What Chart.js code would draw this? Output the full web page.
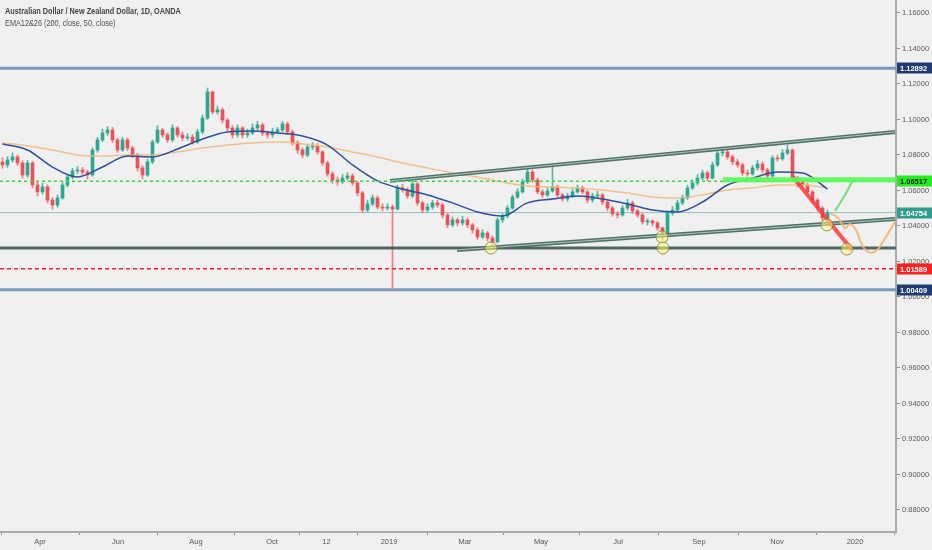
<!DOCTYPE html>
<html>
<head>
<meta charset="utf-8">
<script src="https://cdn.jsdelivr.net/npm/chart.js@4.4.1/dist/chart.umd.min.js"></script>
<style>
  html, body { margin:0; padding:0; background:#f0f0f0; width:932px; height:550px; overflow:hidden; }
  #wrap { position:relative; width:932px; height:550px; }
  canvas { position:absolute; left:0; top:0; }
  #legend { position:absolute; left:5px; top:5px; font-family:"Liberation Sans",Arial,sans-serif; font-size:8.5px; line-height:12px; color:#505050; pointer-events:none; transform:scaleX(0.86); transform-origin:0 0; white-space:nowrap; }
  #legend .t1 { font-weight:bold; color:#454545; }
</style>
</head>
<body>
<div id="wrap">
  <canvas id="c" width="932" height="550"></canvas>
  <div id="legend">
    <div class="t1">Australian Dollar / New Zealand Dollar, 1D, OANDA</div>
    <div>EMA12&amp;26 (200, close, 50, close)</div>
  </div>
</div>
<script>
// ---------- DATA (price values; one candle ~ 3 trading days) ----------
const firstOpen = 1.0760;
const closes = [
 1.0744,1.0772,1.0789,1.0755,1.0687,1.0755,1.0631,1.0592,1.0620,1.0546,
 1.0518,1.0558,1.0631,1.0676,1.0710,1.0715,1.0704,1.0687,1.0828,1.0885,
 1.0924,1.0941,1.0885,1.0828,1.0885,1.0839,1.0800,1.0727,1.0687,1.0761,
 1.0873,1.0941,1.0913,1.0885,1.0952,1.0913,1.0896,1.0901,1.0873,1.0930,
 1.1008,1.1155,1.1042,1.1054,1.0997,1.0952,
 1.0913,1.0952,1.0913,1.0924,1.0952,1.0969,1.0924,1.0913,1.0930,1.0941,
 1.0975,1.0930,1.0868,1.0828,1.0800,1.0845,1.0851,1.0817,1.0755,1.0693,
 1.0659,1.0648,1.0670,1.0682,1.0642,1.0586,1.0490,1.0524,1.0558,1.0507,
 1.0501,1.0507,1.0495,1.0614,1.0603,1.0569,1.0637,1.0530,1.0490,1.0507,
 1.0530,1.0518,1.0462,1.0406,1.0434,
 1.0417,1.0434,1.0406,1.0377,1.0338,1.0361,1.0332,1.0310,1.0434,1.0456,
 1.0501,1.0563,1.0592,1.0648,1.0704,1.0659,1.0592,1.0575,1.0597,1.0620,
 1.0575,1.0552,1.0569,1.0592,1.0614,1.0592,1.0546,1.0569,1.0575,1.0535,
 1.0501,1.0468,1.0462,1.0501,1.0530,1.0485,1.0462,1.0423,1.0428,1.0417,
 1.0389,1.0349,1.0473,1.0490,1.0530,
 1.0558,1.0614,1.0642,1.0670,1.0699,1.0670,1.0744,1.0811,1.0817,1.0789,
 1.0761,1.0744,1.0699,1.0693,1.0727,1.0749,1.0715,1.0682,1.0783,1.0778,
 1.0811,1.0828,1.0670,1.0648,1.0631,1.0592,1.0546,1.0501,1.0445,1.0475
];
const highs = [
 1.0785,1.0790,1.0812,1.0800,1.0768,1.0770,1.0765,1.0650,1.0640,1.0632,
 1.0560,1.0575,1.0645,1.0690,1.0725,1.0735,1.0730,1.0715,1.0840,1.0900,
 1.0945,1.0960,1.0955,1.0895,1.0900,1.0895,1.0850,1.0810,1.0740,1.0775,
 1.0885,1.0965,1.0950,1.0925,1.0970,1.0960,1.0930,1.0920,1.0915,1.0945,
 1.1025,1.1177,1.1160,1.1075,1.1065,1.1005,
 1.0965,1.0970,1.0960,1.0945,1.0975,1.0990,1.0980,1.0935,1.0950,1.0955,
 1.0990,1.0985,1.0940,1.0880,1.0840,1.0860,1.0870,1.0865,1.0825,1.0765,
 1.0705,1.0675,1.0690,1.0700,1.0695,1.0650,1.0595,1.0545,1.0575,1.0570,
 1.0525,1.0525,1.0520,1.0630,1.0635,1.0615,1.0655,1.0645,1.0540,1.0525,
 1.0545,1.0545,1.0530,1.0470,1.0450,
 1.0445,1.0455,1.0445,1.0415,1.0390,1.0380,1.0370,1.0345,1.0445,1.0470,
 1.0515,1.0575,1.0610,1.0665,1.0727,1.0715,1.0670,1.0605,1.0615,1.0732,
 1.0630,1.0585,1.0585,1.0605,1.0630,1.0625,1.0600,1.0585,1.0595,1.0585,
 1.0545,1.0510,1.0480,1.0515,1.0550,1.0540,1.0495,1.0470,1.0440,1.0435,
 1.0425,1.0395,1.0485,1.0510,1.0545,
 1.0575,1.0630,1.0660,1.0690,1.0715,1.0710,1.0760,1.0830,1.0835,1.0830,
 1.0800,1.0775,1.0755,1.0715,1.0740,1.0770,1.0760,1.0725,1.0795,1.0800,
 1.0830,1.0856,1.0835,1.0680,1.0665,1.0640,1.0600,1.0555,1.0510,1.0490
];
const lows = [
 1.0725,1.0730,1.0760,1.0740,1.0670,1.0675,1.0615,1.0570,1.0580,1.0530,
 1.0495,1.0505,1.0550,1.0620,1.0665,1.0695,1.0690,1.0665,1.0680,1.0815,
 1.0875,1.0910,1.0870,1.0815,1.0820,1.0825,1.0785,1.0710,1.0665,1.0680,
 1.0750,1.0865,1.0900,1.0870,1.0875,1.0900,1.0880,1.0885,1.0860,1.0865,
 1.0920,1.1000,1.1030,1.1030,1.0980,1.0935,
 1.0895,1.0900,1.0895,1.0900,1.0915,1.0940,1.0910,1.0895,1.0900,1.0920,
 1.0930,1.0915,1.0855,1.0810,1.0785,1.0790,1.0830,1.0805,1.0740,1.0680,
 1.0640,1.0630,1.0640,1.0660,1.0630,1.0570,1.0475,1.0480,1.0515,1.0495,
 1.0485,1.0490,1.0051,1.0490,1.0590,1.0555,1.0560,1.0515,1.0475,1.0480,
 1.0495,1.0505,1.0445,1.0390,1.0395,
 1.0400,1.0405,1.0390,1.0360,1.0325,1.0330,1.0315,1.0287,1.0305,1.0420,
 1.0445,1.0495,1.0555,1.0585,1.0640,1.0645,1.0580,1.0560,1.0565,1.0590,
 1.0560,1.0540,1.0540,1.0560,1.0585,1.0580,1.0530,1.0535,1.0555,1.0520,
 1.0485,1.0455,1.0445,1.0455,1.0490,1.0470,1.0450,1.0410,1.0405,1.0400,
 1.0375,1.0321,1.0345,1.0460,1.0480,
 1.0520,1.0550,1.0605,1.0630,1.0660,1.0655,1.0665,1.0735,1.0795,1.0775,
 1.0745,1.0730,1.0685,1.0680,1.0685,1.0715,1.0700,1.0665,1.0675,1.0765,
 1.0770,1.0800,1.0655,1.0620,1.0615,1.0580,1.0530,1.0485,1.0430,1.0435
];
// EMA values read at every 5th candle
const emaIdx = [0,5,10,15,20,25,30,35,40,45,50,55,60,65,70,75,80,85,90,95,100,105,110,115,120,125,130,135,140,145,150,155,160,165];
const ema50 = [1.0862,1.0828,1.0732,1.0676,1.0732,1.0794,1.0789,1.0834,1.0890,1.0930,1.0935,1.0924,1.0907,1.0856,1.0744,1.0654,1.0608,1.0575,1.0530,1.0479,1.0456,1.0530,1.0552,1.0569,1.0552,1.0524,1.0490,1.0479,1.0535,1.0631,1.0670,1.0704,1.0699,1.0608];
const ema200 = [1.0868,1.0851,1.0828,1.0800,1.0794,1.0800,1.0800,1.0817,1.0839,1.0856,1.0868,1.0873,1.0862,1.0845,1.0817,1.0789,1.0755,1.0727,1.0699,1.0676,1.0648,1.0625,1.0620,1.0614,1.0603,1.0586,1.0563,1.0558,1.0575,1.0603,1.0614,1.0631,1.0631,1.0614];
// time axis labels at candle-slot positions
const tickLabels = ['Apr','Jun','Aug','Oct','12','2019','Mar','May','Jul','Sep','Nov','2020'];
const tickIdx = [7.5,23.1,38.7,53.9,64.8,77.3,92.5,107.7,123.1,139.3,154.9,170.5];
// drawn levels / objects
const levelResistance = 1.12892, levelSupport = 1.00409, levelBase = 1.0276;
const levelGreen = 1.06517, levelRed = 1.01589, lastPrice = 1.04754;
const upperChannelIdx = [77.5, 178.5], upperChannelVal = [1.0654, 1.0930];
const lowerChannelIdx = [90.9, 178.5], lowerChannelVal = [1.0265, 1.0439];
const greenZoneIdx = [144.1, 178.7], greenZoneVal = 1.0660;
const redArrowIdx = [158.1, 169.9], redArrowVal = [1.0676, 1.0265];
const greenPathIdx = [166.5, 168.5, 169.9], greenPathVal = [1.0484, 1.0575, 1.0648];
const orangePathIdx = [165.5,167.1,168.5,169.5,170.7,171.9,173.1,174.7,176.3,178.5];
const orangePathVal = [1.0473,1.0445,1.0389,1.0411,1.0377,1.0293,1.0254,1.0259,1.0321,1.0423];
const circleIdx = [97.7, 131.9, 132.1, 164.9, 168.9];
const circleVal = [1.0276, 1.0338, 1.0276, 1.0406, 1.0270];
const axisTagVals = [1.12892, 1.06517, 1.04754, 1.01589, 1.00409];

// ---------- build ----------
const xMin = -0.5, xMax = 178.7, yMin = 0.8676, yMax = 1.1673;
const opens = [firstOpen].concat(closes.slice(0, -1));
const UP = '#2ea791', DN = '#ef4f57';
const candleCol = closes.map((c, i) => c >= opens[i] ? UP : DN);
const wickCol = closes.map((c, i) => c >= opens[i] ? 'rgba(46,167,145,0.8)' : 'rgba(239,79,87,0.7)');
const bodies = closes.map((c, i) => ({x: i, y: [opens[i], c]}));
const wicks = closes.map((c, i) => ({x: i, y: [lows[i], highs[i]]}));
const pts = (xs, ys) => xs.map((x, i) => ({x, y: Array.isArray(ys) ? ys[i] : ys}));
const hline = v => [{x: xMin, y: v}, {x: xMax, y: v}];
const tagStyle = {
  1.12892: ['#1f3d72', '#ffffff'],
  1.06517: ['#22ee22', '#1a1a1a'],
  1.04754: ['#2f9c8f', '#ffffff'],
  1.01589: ['#ff1f1f', '#ffffff'],
  1.00409: ['#1f3d72', '#ffffff']
};
const FONT = '"Liberation Sans",Arial,sans-serif';

const lineDs = (data, color, width, order, extra) => Object.assign({
  type: 'line', data, borderColor: color, borderWidth: width, pointRadius: 0,
  fill: false, order, tension: 0
}, extra || {});

const tagPlugin = {
  id: 'tags',
  afterDraw(chart) {
    const ctx = chart.ctx, ys = chart.scales.y, x0 = chart.chartArea.right + 1;
    ctx.save();
    ctx.font = 'bold 7.5px ' + FONT;
    ctx.textBaseline = 'middle';
    axisTagVals.forEach(v => {
      const y = Math.round(ys.getPixelForValue(v));
      const [bg, fg] = tagStyle[v];
      ctx.fillStyle = bg;
      ctx.fillRect(x0, y - 5.5, 932 - x0, 11);
      ctx.fillStyle = fg;
      ctx.fillText(v.toFixed(5), x0 + 3, y + 0.5);
    });
    ctx.restore();
  }
};

new Chart(document.getElementById('c'), {
  type: 'bar',
  data: {
    datasets: [
      lineDs(hline(levelResistance), '#8099ba', 3, 20),
      lineDs(hline(levelSupport), '#8099ba', 3, 20),
      lineDs(hline(lastPrice), 'rgba(70,160,150,0.55)', 1, 20),
      lineDs(hline(levelGreen), '#2be02b', 1.5, 4, {borderDash: [3, 3]}),
      lineDs(hline(levelRed), '#ff2020', 1.5, 4, {borderDash: [4, 3]}),
      { type: 'bar', data: wicks, backgroundColor: wickCol, barThickness: 1, grouped: false, order: 12 },
      { type: 'bar', data: bodies, backgroundColor: candleCol, barThickness: 3, grouped: false, order: 11, minBarLength: 1 },
      lineDs(pts(emaIdx, ema200), 'rgba(245,185,120,0.85)', 1.5, 8, {cubicInterpolationMode: 'monotone'}),
      lineDs(pts(emaIdx, ema50), '#2c50a2', 1.5, 7, {cubicInterpolationMode: 'monotone'}),
      lineDs(hline(levelBase), '#4f6763', 3, 5),
      lineDs(pts(upperChannelIdx, upperChannelVal), '#4f7168', 4, 5),
      lineDs(pts(upperChannelIdx, upperChannelVal), 'rgba(185,210,202,0.9)', 1, 4.5),
      lineDs(pts(lowerChannelIdx, lowerChannelVal), '#4f7168', 4, 5),
      lineDs(pts(lowerChannelIdx, lowerChannelVal), 'rgba(185,210,202,0.9)', 1, 4.5),
      lineDs(pts(greenZoneIdx, greenZoneVal), 'rgba(90,250,90,0.95)', 5, 3),
      lineDs(pts(redArrowIdx, redArrowVal), 'rgba(255,55,55,0.85)', 4, 3),
      lineDs(pts(greenPathIdx, greenPathVal), 'rgba(110,220,110,0.95)', 2, 3, {tension: 0.3}),
      lineDs(pts(orangePathIdx, orangePathVal), 'rgba(245,180,110,0.9)', 2, 3, {tension: 0.4}),
      { type: 'scatter', data: pts(circleIdx, circleVal), pointRadius: 6, pointBorderWidth: 1,
        backgroundColor: 'rgba(255,255,120,0.5)', borderColor: 'rgba(130,130,60,0.85)', order: 1 }
    ]
  },
  options: {
    responsive: false,
    animation: false,
    layout: { padding: 0, autoPadding: false },
    plugins: { legend: { display: false }, tooltip: { enabled: false } },
    scales: {
      x: {
        type: 'linear', min: xMin, max: xMax, offset: false,
        grid: { display: true, drawOnChartArea: false, drawTicks: true, tickLength: 3, color: '#8f8f8f' },
        border: { display: true, color: '#a9a9a9', width: 2 },
        afterBuildTicks: s => { s.ticks = tickIdx.map(v => ({ value: v })); },
        afterFit: s => { s.height = 18; s.paddingLeft = 0; s.paddingRight = 0; s.paddingTop = 0; s.paddingBottom = 0; },
        ticks: {
          autoSkip: false, maxRotation: 0, padding: 2,
          color: '#555', font: { family: FONT, size: 7.5 },
          callback: (v, i) => tickLabels[i]
        }
      },
      y: {
        type: 'linear', position: 'right', min: yMin, max: yMax,
        grid: { display: true, drawOnChartArea: false, drawTicks: true, tickLength: 4, color: '#8f8f8f' },
        border: { display: true, color: '#a9a9a9', width: 2 },
        afterFit: s => { s.width = 36; s.paddingLeft = 0; s.paddingRight = 0; s.paddingTop = 0; s.paddingBottom = 0; },
        ticks: {
          stepSize: 0.02, includeBounds: false, padding: 2,
          color: '#5a5a5a', font: { family: FONT, size: 7.5 },
          callback: v => v.toFixed(5)
        }
      }
    }
  },
  plugins: [tagPlugin]
});
</script>
</body>
</html>
